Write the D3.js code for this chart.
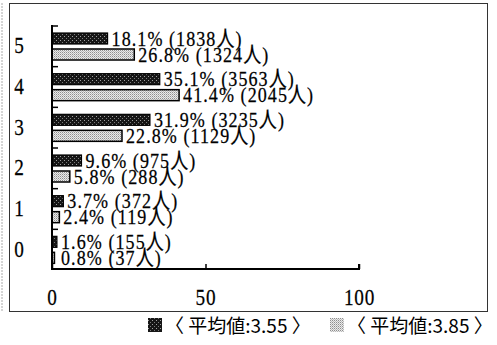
<!DOCTYPE html>
<html><head><meta charset="utf-8">
<script src="https://cdn.jsdelivr.net/npm/d3@7"></script>
<style>
html,body{margin:0;padding:0;background:#fff;}
svg{display:block;}
</style></head>
<body>
<svg id="c" width="497" height="345"></svg>
<script>
const categories = ["5","4","3","2","1","0"];
const seriesA = [18.1, 35.1, 31.9, 9.6, 3.7, 1.6];      // dark
const countsA = [1838, 3563, 3235, 975, 372, 155];
const seriesB = [26.8, 41.4, 22.8, 5.8, 2.4, 0.8];      // light
const countsB = [1324, 2045, 1129, 288, 119, 37];
const xTicks = [0, 50, 100];
const legendLabels = ["〈 平均値:3.55 〉", "〈 平均値:3.85 〉"];

const svg = d3.select("#c");
const defs = svg.append("defs");
// dark pattern
const pd = defs.append("pattern").attr("id","pd").attr("width",4).attr("height",4).attr("patternUnits","userSpaceOnUse");
pd.append("rect").attr("width",4).attr("height",4).attr("fill","#161616");
pd.append("rect").attr("x",0).attr("y",0).attr("width",1).attr("height",1).attr("fill","#a0a0a0");
pd.append("rect").attr("x",2).attr("y",2).attr("width",1).attr("height",1).attr("fill","#7a7a7a");
// light pattern
const pl = defs.append("pattern").attr("id","pl").attr("width",2).attr("height",2).attr("patternUnits","userSpaceOnUse");
pl.append("rect").attr("width",2).attr("height",2).attr("fill","#eaeaea");
pl.append("rect").attr("x",0).attr("y",0).attr("width",1).attr("height",1).attr("fill","#8e8e8e");
pl.append("rect").attr("x",1).attr("y",1).attr("width",1).attr("height",1).attr("fill","#bbbbbb");

// frame
svg.append("line").attr("x1",2).attr("x2",2).attr("y1",3).attr("y2",312).attr("stroke","#aaa").attr("stroke-dasharray","2,1");
svg.append("rect").attr("x",9.5).attr("y",3.5).attr("width",478).attr("height",308)
  .attr("fill","none").attr("stroke","#333").attr("stroke-width",1);

const x = d3.scaleLinear().domain([0,100]).range([52,359]);
const y = d3.scaleBand().domain(categories).range([25,269]);
const bh = 11;
const offA = 8, offB = 24;

const serif = "'Liberation Serif','Noto Sans CJK JP',serif";

// bars
const g = svg.append("g");
categories.forEach((c,i)=>{
  const yA = y(c)+offA, yB = y(c)+offB;
  g.append("rect").attr("x",x(0)).attr("y",yA).attr("width",x(seriesA[i])-x(0)).attr("height",bh)
    .attr("fill","url(#pd)").attr("stroke","#000").attr("stroke-width",1.2);
  g.append("rect").attr("x",x(0)).attr("y",yB).attr("width",x(seriesB[i])-x(0)).attr("height",bh)
    .attr("fill","url(#pl)").attr("stroke","#000").attr("stroke-width",1.5);
  [[seriesA[i],countsA[i],yA],[seriesB[i],countsB[i],yB]].forEach(([v,n,yy])=>{
    const tx = Math.max(x(v)+4, x(0)+9);
    g.append("text").attr("transform",`translate(${tx},${yy+bh/2+7}) scale(0.82,1)`)
      .attr("font-family",serif).attr("font-size",22).attr("letter-spacing",1.3).attr("fill","#000")
      .attr("stroke","#000").attr("stroke-width",0.25)
      .text(`${v.toFixed(1)}% (${n}人)`);
  });
  svg.append("text").attr("transform",`translate(19,${y(c)+y.bandwidth()/2+8}) scale(0.8,1)`)
    .attr("text-anchor","middle").attr("font-family",serif).attr("font-size",24)
    .attr("stroke","#000").attr("stroke-width",0.25).text(c);
});

// y axis line + ticks
svg.append("line").attr("x1",x(0)).attr("x2",x(0)).attr("y1",y.range()[0]).attr("y2",y.range()[1])
  .attr("stroke","#000").attr("stroke-width",2);
const bounds = categories.map(c=>y(c));
svg.selectAll(".yt").data(bounds).enter().append("line")
  .attr("x1",x(0)).attr("x2",x(0)+6).attr("y1",d=>d+1).attr("y2",d=>d+1)
  .attr("stroke","#000").attr("stroke-width",1.5);

// x axis
const xa = svg.append("g").attr("transform",`translate(0,${y.range()[1]})`)
  .call(d3.axisBottom(x).tickValues(xTicks).tickSize(-5).tickPadding(19).tickFormat(d3.format("d")));
xa.select(".domain").attr("stroke","#000").attr("stroke-width",2).attr("d",`M${x(0)},-5V0H${x(100)}V-5`);
xa.selectAll(".tick line").attr("stroke","#000").attr("stroke-width",1.5);
xa.selectAll(".tick text").attr("font-family",serif).attr("font-size",24).attr("fill","#000")
  .attr("stroke","#000").attr("stroke-width",0.25)
  .attr("letter-spacing",1).attr("transform","scale(0.8,1)");

// legend
const lg = [{fill:"url(#pd)",x:148,label:legendLabels[0]},{fill:"url(#pl)",x:330,label:legendLabels[1]}];
lg.forEach(l=>{
  svg.append("rect").attr("x",l.x).attr("y",318).attr("width",14).attr("height",14).attr("fill",l.fill);
  svg.append("text").attr("x",l.x+17).attr("y",333).attr("font-family","'Noto Sans CJK JP',sans-serif")
    .attr("font-size",19).attr("fill","#000").text(l.label);
});
</script>
</body></html>
